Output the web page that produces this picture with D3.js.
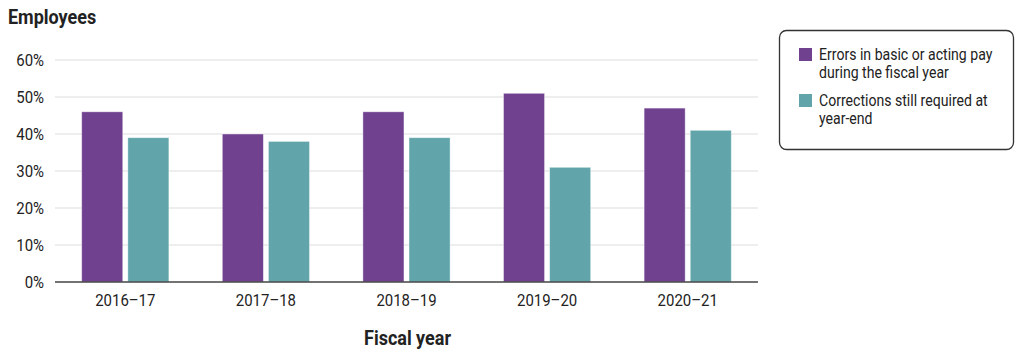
<!DOCTYPE html>
<html><head><meta charset="utf-8">
<script src="https://cdn.jsdelivr.net/npm/d3@7"></script>
<style>body{margin:0;background:#fff;} svg{display:block;font-family:Roboto,sans-serif;}</style>
</head><body>
<svg id="c" width="1024" height="355"></svg>
<script>
const categories = ["2016–17","2017–18","2018–19","2019–20","2020–21"];
const seriesNames = ["Errors in basic or acting pay during the fiscal year","Corrections still required at year-end"];
const errors = [46,40,46,51,47];
const corrections = [39,38,39,31,41];
const yTicks = [0,10,20,30,40,50,60];
const colors = ["#70418f","#61a5aa"];

const svg = d3.select("#c");
const m = {l:55, r:758, t:60, b:282};
const x = d3.scaleBand().domain(categories).range([m.l,m.r]).paddingInner(0.38).paddingOuter(0.19);
const x1 = d3.scaleBand().domain([0,1]).range([0,x.bandwidth()]).paddingInner(0.11);
const y = d3.scaleLinear().domain([0,60]).range([m.b,m.t]);
const SX = 0.88;

function ctext(g, tx, ty, size, txt, anchor, weight, sx){
  return g.append("text").attr("transform",`translate(${tx},${ty}) scale(${sx||SX},1)`)
    .attr("font-size",size).attr("fill","#222").attr("text-anchor",anchor||"start")
    .attr("font-weight",weight||"normal").text(txt);
}

svg.append("g").selectAll("line").data(yTicks.slice(1)).join("line")
  .attr("x1",m.l).attr("x2",m.r).attr("y1",d=>y(d)).attr("y2",d=>y(d))
  .attr("stroke","#dedede").attr("stroke-width",1.2);
const yl = svg.append("g");
yTicks.forEach(d=>ctext(yl,44,y(d)+6,17,d+"%","end"));

const data = [errors, corrections];
categories.forEach((c,i)=>{
  [0,1].forEach(s=>{
    svg.append("rect").attr("x",x(c)+x1(s)).attr("width",x1.bandwidth())
      .attr("y",y(data[s][i])).attr("height",y(0)-y(data[s][i]))
      .attr("fill",colors[s]).attr("stroke","#fff").attr("stroke-opacity",0.5).attr("stroke-width",0.8);
  });
});

svg.append("line").attr("x1",m.l).attr("x2",m.r).attr("y1",y(0)).attr("y2",y(0)).attr("stroke","#444").attr("stroke-width",1.5);

const xl = svg.append("g");
categories.forEach(d=>ctext(xl,x(d)+x.bandwidth()/2,y(0)+24,17,d,"middle"));

ctext(svg,8,24,20,"Employees","start","bold",0.9);
ctext(svg,(m.l+m.r)/2+1,345,20,"Fiscal year","middle","bold",0.9);

// legend
const lg = svg.append("g");
lg.append("rect").attr("x",779.5).attr("y",30.5).attr("width",234).attr("height",119).attr("rx",7)
  .attr("fill","#fff").attr("stroke","#333").attr("stroke-width",1.3);
const legLines = [["Errors in basic or acting pay","during the fiscal year"],["Corrections still required at","year-end"]];
legLines.forEach((lines,i)=>{
  const y0 = 48 + i*46;
  lg.append("rect").attr("x",799).attr("y",y0).attr("width",13).attr("height",13).attr("fill",colors[i]);
  lines.forEach((t,j)=>ctext(lg,819,y0+12+j*18,16,t,"start"));
});
</script>
</body></html>
